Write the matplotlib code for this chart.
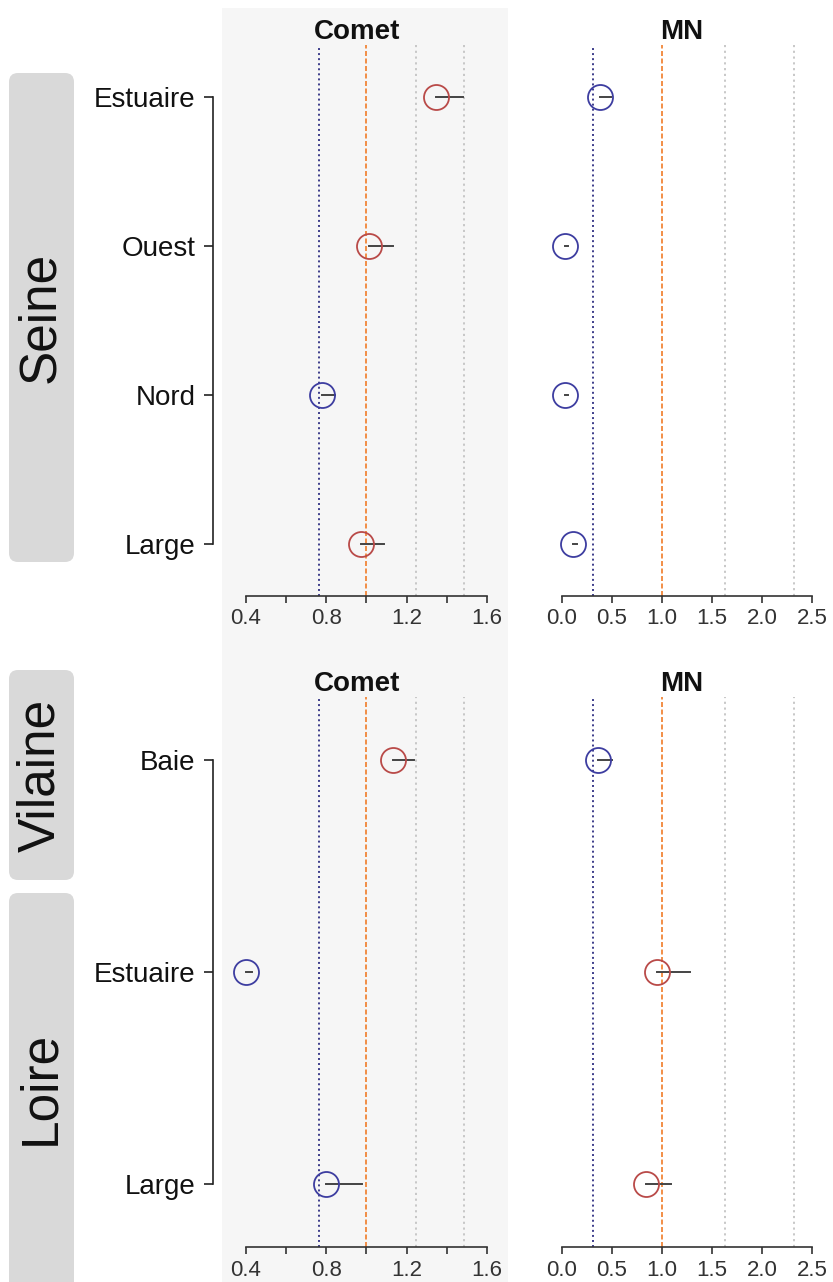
import numpy as np
import matplotlib
matplotlib.use("Agg")
import matplotlib.pyplot as plt
from matplotlib.patches import Rectangle, FancyBboxPatch

plt.rcParams['font.family'] = ['Liberation Sans', 'DejaVu Sans']

# data
sites_top = ["Estuaire", "Ouest", "Nord", "Large"]
comet_top = [1.345, 1.013, 0.780, 0.974]
comet_top_se = [0.138, 0.120, 0.065, 0.116]
comet_top_col = ["r", "r", "b", "r"]
mn_top = [0.382, 0.035, 0.035, 0.110]
mn_top_se = [0.107, 0.030, 0.030, 0.040]
mn_top_col = ["b", "b", "b", "b"]

sites_bot = ["Baie", "Estuaire", "Large"]
comet_bot = [1.131, 0.401, 0.798]
comet_bot_se = [0.107, 0.028, 0.179]
comet_bot_col = ["r", "b", "b"]
mn_bot = [0.365, 0.951, 0.840]
mn_bot_se = [0.135, 0.330, 0.250]
mn_bot_col = ["b", "r", "r"]

# reference lines: low, control, two upper thresholds
comet_ref = [0.766, 1.0, 1.246, 1.488]
mn_ref = [0.316, 1.0, 1.63, 2.32]

comet_ticks = [0.4, 0.6, 0.8, 1.0, 1.2, 1.4, 1.6]
comet_ticklabels = ["0.4", "", "0.8", "", "1.2", "", "1.6"]
mn_ticks = [0.0, 0.5, 1.0, 1.5, 2.0, 2.5]
mn_ticklabels = ["0.0", "0.5", "1.0", "1.5", "2.0", "2.5"]

strips = ["Seine", "Vilaine", "Loire"]

W, H = 833, 1282
fig = plt.figure(figsize=(W / 100, H / 100), dpi=100)

cols = {"r": "#b94a48", "b": "#3d3da0"}

def px_axes(x0, y0, x1, y1, **kw):
    return fig.add_axes([x0 / W, 1 - y1 / H, (x1 - x0) / W, (y1 - y0) / H], **kw)

# background layer in pixel coordinates
bg = px_axes(0, 0, W, H, zorder=-5)
bg.set_xlim(0, W)
bg.set_ylim(H, 0)
bg.axis("off")
bg.add_patch(Rectangle((222, 8), 286, H - 8, color="#f6f6f6", lw=0))
strip_boxes = [(73, 562), (670, 880), (893, 1295)]
for name, (y0, y1) in zip(strips, strip_boxes):
    bg.add_patch(FancyBboxPatch((9, y0), 65, y1 - y0,
                                boxstyle="round,pad=0,rounding_size=9",
                                color="#d9d9d9", lw=0))
    yc = (y0 + min(y1, H)) / 2
    bg.text(41, yc, name, rotation=90, ha="center", va="center",
            fontsize=37, color="#111111")


def panel(ax, vals, se, colr, xlim, ticks, ticklabels, refs, ylim, nrows, title, title_x, labels=None):
    ax.set_facecolor("none")
    y = np.arange(nrows, 0, -1)
    ax.set_xlim(*xlim)
    ax.set_ylim(*ylim)
    ref_styles = [dict(color="#3c3c8a", ls=(0, (1, 1.6)), lw=1.4),
                  dict(color="#f07c28", ls=(0, (3, 1.5)), lw=1.2),
                  dict(color="#c4c4c4", ls=(0, (1.2, 2)), lw=1.3),
                  dict(color="#c4c4c4", ls=(0, (1.2, 2)), lw=1.3)]
    for r, st in zip(refs, ref_styles):
        ax.axvline(r, zorder=1, **st)
    for v, s, c, yy in zip(vals, se, colr, y):
        ax.plot([v, v + s], [yy, yy], color="#444444", lw=1.4, zorder=3)
        ax.plot(v, yy, "o", ms=18, mfc="none", mec=cols[c], mew=1.3, zorder=4)
    ax.set_xticks(ticks)
    ax.set_xticklabels(ticklabels)
    ax.spines["top"].set_visible(False)
    ax.spines["right"].set_visible(False)
    ax.spines["bottom"].set_bounds(ticks[0], ticks[-1])
    ax.spines["bottom"].set_color("#333333")
    ax.spines["bottom"].set_linewidth(1.2)
    ax.tick_params(axis="x", length=5, width=1.2, color="#333333",
                   labelsize=16, labelcolor="#333333", pad=4)
    if labels is not None:
        ax.spines["left"].set_position(("outward", 6.5))
        ax.spines["left"].set_bounds(y[-1], y[0])
        ax.spines["left"].set_color("#222222")
        ax.spines["left"].set_linewidth(1.2)
        ax.set_yticks(y)
        ax.set_yticklabels(labels)
        ax.tick_params(axis="y", length=6.5, width=1.2, color="#222222",
                       labelsize=20, labelcolor="#111111", pad=6)
    else:
        ax.spines["left"].set_visible(False)
        ax.set_yticks([])
    ax.set_title(title, fontsize=20, fontweight="bold", pad=3.6, x=title_x, color="#111111")


comet_xlim = (0.282, 1.705)
mn_xlim = (-0.2166, 2.677)

ax1 = px_axes(222, 45, 508, 596)
panel(ax1, comet_top, comet_top_se, comet_top_col, comet_xlim, comet_ticks, comet_ticklabels,
      comet_ref, (0.651, 4.349), 4, "Comet", 0.472, labels=sites_top)
ax2 = px_axes(540, 45, 830, 596)
panel(ax2, mn_top, mn_top_se, mn_top_col, mn_xlim, mn_ticks, mn_ticklabels,
      mn_ref, (0.651, 4.349), 4, "MN", 0.49)

ax3 = px_axes(222, 697, 508, 1247)
panel(ax3, comet_bot, comet_bot_se, comet_bot_col, comet_xlim, comet_ticks, comet_ticklabels,
      comet_ref, (0.704, 3.296), 3, "Comet", 0.472, labels=sites_bot)
ax4 = px_axes(540, 697, 830, 1247)
panel(ax4, mn_bot, mn_bot_se, mn_bot_col, mn_xlim, mn_ticks, mn_ticklabels,
      mn_ref, (0.704, 3.296), 3, "MN", 0.49)

fig.savefig("out.png", dpi=100)
